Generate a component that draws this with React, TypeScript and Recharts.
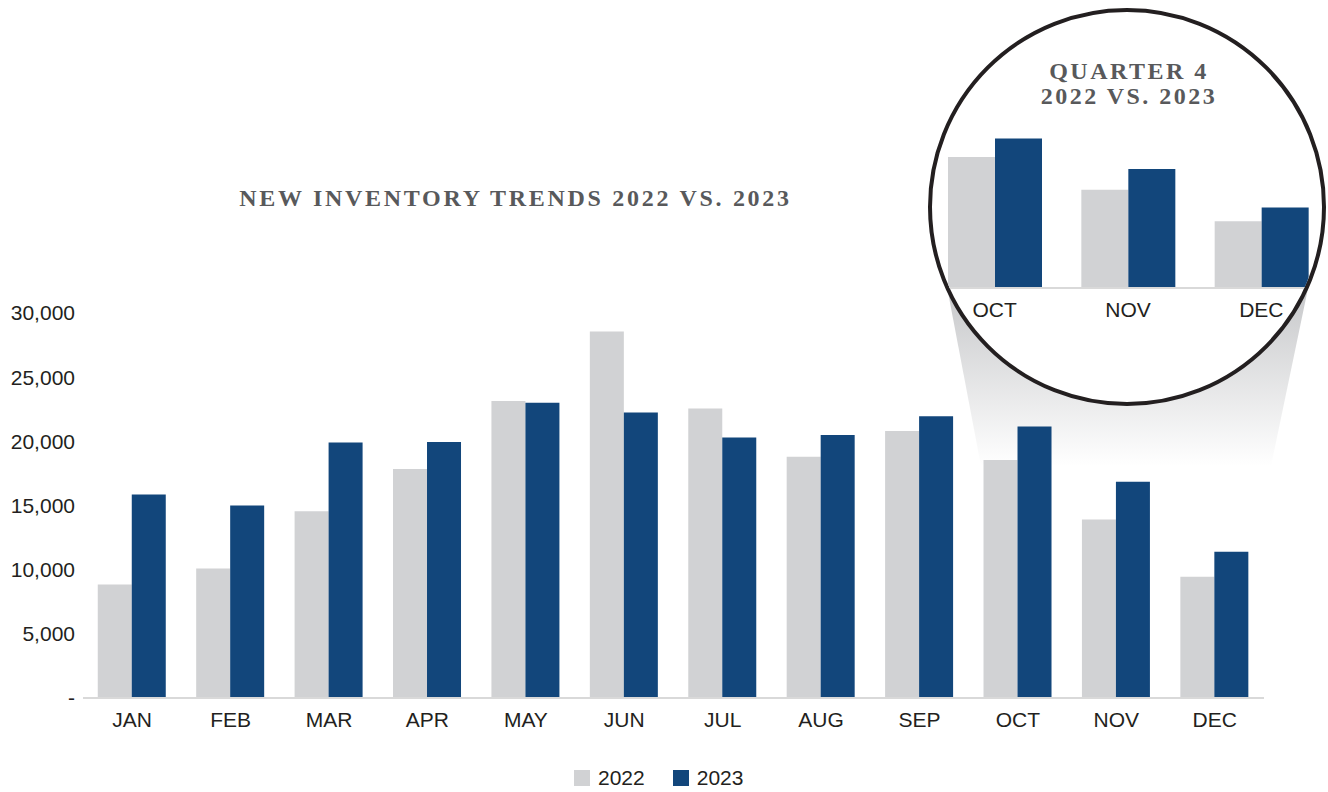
import { BarChart, Bar, XAxis, YAxis } from 'recharts'

const months = ['JAN', 'FEB', 'MAR', 'APR', 'MAY', 'JUN', 'JUL', 'AUG', 'SEP', 'OCT', 'NOV', 'DEC']
const inv2022 = [8850, 10100, 14550, 17850, 23150, 28550, 22550, 18800, 20800, 18550, 13900, 9450]
const inv2023 = [15850, 15000, 19900, 19950, 23000, 22250, 20300, 20500, 21950, 21150, 16850, 11400]
const yTicks = [0, 5000, 10000, 15000, 20000, 25000, 30000]
const q4Months = ['OCT', 'NOV', 'DEC']

const GRAY = '#d1d2d4'
const NAVY = '#12467b'
const INK = '#231f20'
const TITLE = '#58595b'
const SANS = '"Liberation Sans", Arial, Helvetica, sans-serif'
const SERIF = '"Liberation Serif", "Times New Roman", serif'

const data = months.map((m, i) => ({ month: m, y2022: inv2022[i], y2023: inv2023[i] }))
const q4Data = data.filter((d) => q4Months.includes(d.month))

const fmt = (v: number) => (v === 0 ? '-' : v.toLocaleString('en-US'))

const titleStyle: React.CSSProperties = {
  position: 'absolute',
  fontFamily: SERIF,
  fontWeight: 700,
  fontSize: 24,
  color: TITLE,
  textAlign: 'center',
  whiteSpace: 'nowrap',
}

export default function App() {
  return (
    <div style={{ position: 'relative', width: 1328, height: 792, background: 'white', overflow: 'hidden' }}>
      <style>{'body{margin:0}'}</style>

      {/* zoom cone behind everything */}
      <svg width={1328} height={792} style={{ position: 'absolute', left: 0, top: 0 }}>
        <defs>
          <linearGradient id="cone" x1="0" y1="250" x2="0" y2="466" gradientUnits="userSpaceOnUse">
            <stop offset="0%" stopColor="#bfc0c2" />
            <stop offset="20%" stopColor="#c8c9cb" />
            <stop offset="100%" stopColor="#ffffff" />
          </linearGradient>
        </defs>
        <polygon points="940,250 1316,250 1271,466 981,466" fill="url(#cone)" />
      </svg>

      <div style={{ ...titleStyle, left: 0, width: 1031, top: 185, letterSpacing: 2.7, lineHeight: '26px' }}>
        NEW INVENTORY TRENDS 2022 VS. 2023
      </div>

      <div style={{ position: 'absolute', left: 0, top: 0 }}>
        <BarChart width={1328} height={792} data={data}
          margin={{ top: 313, right: 64, bottom: 54, left: 0 }}
          barCategoryGap="15%" barGap={0}>
          <YAxis
            width={83}
            domain={[0, 30000]}
            ticks={yTicks}
            tickFormatter={fmt}
            tick={{ fontSize: 21, fill: INK, fontFamily: SANS }}
            axisLine={false}
            tickLine={false}
            tickSize={0}
            tickMargin={8}
          />
          <XAxis
            dataKey="month"
            height={40}
            tick={{ fontSize: 21, fill: INK, fontFamily: SANS }}
            axisLine={{ stroke: '#d9d9d9', strokeWidth: 2 }}
            tickLine={false}
            tickSize={0}
            tickMargin={14}
          />
          <Bar dataKey="y2022" name="2022" fill={GRAY} isAnimationActive={false} />
          <Bar dataKey="y2023" name="2023" fill={NAVY} isAnimationActive={false} />
        </BarChart>
      </div>

      {/* Q4 magnifier */}
      <div style={{
        position: 'absolute', left: 928, top: 8, width: 398, height: 398,
        boxSizing: 'border-box', border: `4px solid ${INK}`, borderRadius: '50%',
        overflow: 'hidden', background: 'white',
      }}>
        <div style={{ position: 'absolute', left: -4, top: -4 }}>
          <BarChart width={400} height={398} data={q4Data}
            margin={{ top: 68, right: 0, bottom: 78, left: 0 }}
            barCategoryGap="15%" barGap={0}>
            <YAxis hide domain={[0, 30000]} />
            <XAxis
              dataKey="month"
              height={40}
              tick={{ fontSize: 21, fill: INK, fontFamily: SANS }}
              axisLine={{ stroke: '#d9d9d9', strokeWidth: 2 }}
              tickLine={false}
              tickSize={0}
              tickMargin={14}
            />
            <Bar dataKey="y2022" fill={GRAY} isAnimationActive={false} />
            <Bar dataKey="y2023" fill={NAVY} isAnimationActive={false} />
          </BarChart>
          <div style={{ ...titleStyle, left: 0, width: 402, top: 51, letterSpacing: 2.5, lineHeight: '25px' }}>
            QUARTER 4<br />2022 VS. 2023
          </div>
        </div>
      </div>

      {/* legend */}
      <div style={{ position: 'absolute', left: 574, top: 766, display: 'flex', alignItems: 'center', gap: 28, fontFamily: SANS, fontSize: 21, color: INK }}>
        {[{ color: GRAY, label: '2022' }, { color: NAVY, label: '2023' }].map((l) => (
          <div key={l.label} style={{ display: 'flex', alignItems: 'center', gap: 8 }}>
            <div style={{ width: 16, height: 16, background: l.color }} />
            <span>{l.label}</span>
          </div>
        ))}
      </div>
    </div>
  )
}
